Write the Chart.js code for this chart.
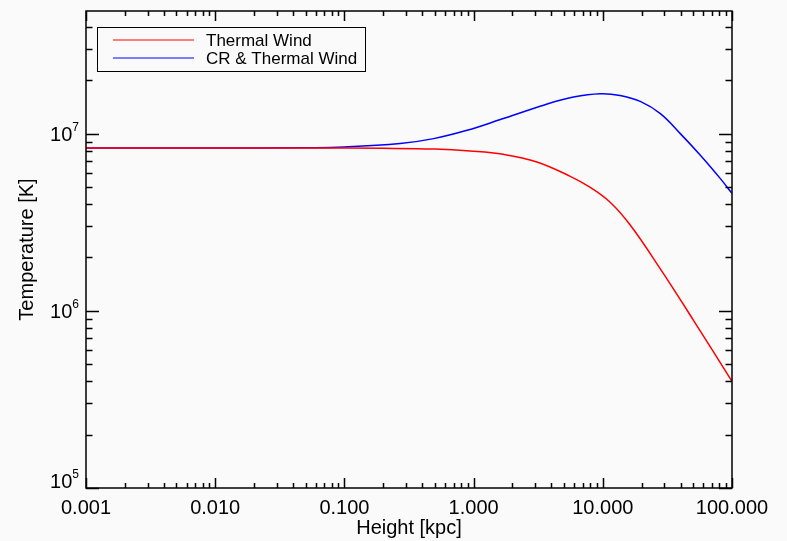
<!DOCTYPE html>
<html>
<head>
<meta charset="utf-8">
<script src="https://cdn.jsdelivr.net/npm/chart.js@4/dist/chart.umd.min.js"></script>
<style>
  body { margin: 0; background: #fafafa; }
  #wrap { width: 787px; height: 541px; }
</style>
</head>
<body>
<div id="wrap"><canvas id="chartjs-0"></canvas></div>
<script>
/* values: height in kpc, temperature in K */
var thermalHeight = [0.001, 0.01, 0.05, 0.2, 0.5, 0.94, 1.70, 3.09, 5.60, 8.0, 11.4, 16.3, 27.8, 50.2, 100];
var thermalTemp = [8.29e6, 8.29e6, 8.29e6, 8.26e6, 8.18e6, 7.98e6, 7.64e6, 6.92e6, 5.74e6, 4.97e6, 4.10e6, 3.05e6, 1.73e6, 8.87e5, 4.0e5];

var crHeight = [0.001, 0.01, 0.05, 0.1, 0.27, 0.49, 0.89, 1.61, 3.58, 5.93, 9.55, 13.6, 19.5, 27.9, 39.8, 56.9, 81.3, 100];
var crTemp = [8.29e6, 8.30e6, 8.33e6, 8.4e6, 8.79e6, 9.37e6, 1.044e7, 1.20e7, 1.456e7, 1.607e7, 1.68e7, 1.643e7, 1.52e7, 1.297e7, 1.0e7, 7.55e6, 5.57e6, 4.6e6];

var xTickValues = [0.001, 0.01, 0.1, 1, 10, 100];
var xTickLabels = ["0.001", "0.010", "0.100", "1.000", "10.000", "100.000"];
var yTickValues = [1e5, 1e6, 1e7];
var yTickExp = ["5", "6", "7"];

var FONT = "'Liberation Sans', Arial, Helvetica, sans-serif";

function toPoints(xs, ys) {
  var pts = [];
  for (var i = 0; i < xs.length; i++) pts.push({ x: xs[i], y: ys[i] });
  return pts;
}

/* IDL style box: ticks pointing in on all four sides, 10^n labels, boxed legend */
var idlFrame = {
  id: "idlFrame",
  afterDatasetsDraw: function (chart) {
    var ctx = chart.ctx, a = chart.chartArea;
    var x = chart.scales.x, y = chart.scales.y;
    ctx.save();
    ctx.strokeStyle = "#000";
    ctx.lineWidth = 1.5;
    ctx.strokeRect(a.left, a.top, a.right - a.left, a.bottom - a.top);
    ctx.beginPath();
    for (var e = -3; e <= 2; e++) {
      for (var m = 1; m <= 9; m++) {
        var v = m * Math.pow(10, e);
        if (v > x.max * 1.0001) break;
        var px = Math.round(x.getPixelForValue(v)) + 0.5;
        var len = m === 1 ? 10 : 5;
        ctx.moveTo(px, a.bottom); ctx.lineTo(px, a.bottom - len);
        ctx.moveTo(px, a.top); ctx.lineTo(px, a.top + len);
      }
    }
    for (var e2 = 5; e2 <= 7; e2++) {
      for (var m2 = 1; m2 <= 9; m2++) {
        var v2 = m2 * Math.pow(10, e2);
        if (v2 > y.max) break;
        var py = Math.round(y.getPixelForValue(v2)) + 0.5;
        var len2 = m2 === 1 ? 13 : 6.5;
        ctx.moveTo(a.left, py); ctx.lineTo(a.left + len2, py);
        ctx.moveTo(a.right, py); ctx.lineTo(a.right - len2, py);
      }
    }
    ctx.stroke();

    /* y labels as 10 with a raised exponent */
    ctx.fillStyle = "#000";
    ctx.textAlign = "right";
    ctx.textBaseline = "alphabetic";
    for (var i = 0; i < yTickValues.length; i++) {
      var ty = y.getPixelForValue(yTickValues[i]);
      var base = Math.min(ty + 7.5, a.bottom);
      ctx.font = "12px " + FONT;
      var ew = ctx.measureText(yTickExp[i]).width;
      ctx.fillText(yTickExp[i], 79, base - 10);
      ctx.font = "20px " + FONT;
      ctx.fillText("10", 79 - ew, base);
    }

    /* legend */
    ctx.lineWidth = 1;
    ctx.strokeRect(97.5, 27.5, 268, 44);
    ctx.font = "17px " + FONT;
    ctx.textAlign = "left";
    var rows = [40, 58];
    chart.data.datasets.forEach(function (ds, k) {
      ctx.strokeStyle = ds.borderColor;
      ctx.lineWidth = 1.2;
      ctx.beginPath();
      ctx.moveTo(113, rows[k]); ctx.lineTo(194, rows[k]);
      ctx.stroke();
      ctx.fillText(ds.label, 206, rows[k] + 5.5);
    });
    ctx.restore();
  }
};

var ctx = document.getElementById("chartjs-0");
var myChart = new Chart(ctx, {
  type: "scatter",
  data: {
    datasets: [
      {
        label: "Thermal Wind",
        data: toPoints(thermalHeight, thermalTemp),
        borderColor: "rgb(255, 0, 0)",
        borderWidth: 1.5,
        showLine: true,
        pointRadius: 0,
        tension: 0.4,
      },
      {
        label: "CR & Thermal Wind",
        data: toPoints(crHeight, crTemp),
        borderColor: "rgb(0, 0, 255)",
        borderWidth: 1.5,
        showLine: true,
        pointRadius: 0,
        tension: 0.4,
      },
    ],
  },
  options: {
    responsive: true,
    maintainAspectRatio: false,
    animation: false,
    layout: { padding: { left: 0, top: 11, right: 55, bottom: 0 } },
    plugins: { legend: { display: false }, tooltip: { enabled: false } },
    scales: {
      x: {
        type: "logarithmic",
        min: 0.001,
        max: 100,
        grid: { display: false },
        border: { display: false },
        afterBuildTicks: function (scale) {
          scale.ticks = xTickValues.map(function (v) { return { value: v }; });
        },
        afterFit: function (scale) { scale.height = 53; },
        ticks: {
          autoSkip: false,
          maxRotation: 0,
          padding: 0,
          color: "#000",
          font: { family: FONT, size: 20 },
          callback: function (v, i) { return xTickLabels[i]; },
        },
        title: {
          display: true,
          text: "Height [kpc]",
          color: "#000",
          font: { family: FONT, size: 20 },
          padding: { top: 0, bottom: 1 },
        },
      },
      y: {
        type: "logarithmic",
        min: 1e5,
        max: 4.92e7,
        grid: { display: false },
        border: { display: false },
        ticks: { display: false },
        afterFit: function (scale) { scale.width = 86; },
        title: {
          display: true,
          text: "Temperature [K]",
          color: "#000",
          font: { family: FONT, size: 20 },
          padding: { top: 15, bottom: 0 },
        },
      },
    },
  },
  plugins: [idlFrame],
});
</script>
</body>
</html>
